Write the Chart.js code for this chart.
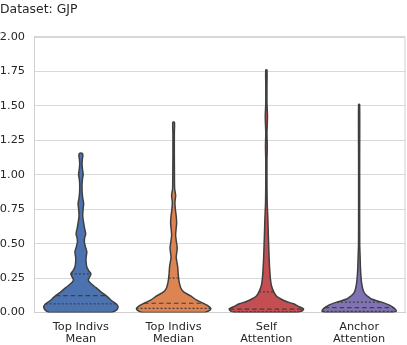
<!DOCTYPE html>
<html>
<head>
<meta charset="utf-8">
<script src="https://cdn.jsdelivr.net/npm/chart.js@4.4.0/dist/chart.umd.min.js"></script>
<style>
    html, body { margin: 0; padding: 0; background: #fff; }
</style>
</head>
<body>
<canvas id="violin-chart" width="407" height="345"></canvas>
<script>
// categories and ticks
let categories = [["Top Indivs", "Mean"], ["Top Indivs", "Median"], ["Self", "Attention"], ["Anchor", "Attention"]];
let yTicks = [0, 0.25, 0.5, 0.75, 1, 1.25, 1.5, 1.75, 2];

// violin outlines: value levels and relative density (1 = widest)
let meanLevels = [0, 0.02, 0.045, 0.063, 0.08, 0.1, 0.123, 0.15, 0.18, 0.21, 0.235, 0.255, 0.28, 0.3, 0.33, 0.37, 0.4, 0.44, 0.48, 0.51, 0.54, 0.57, 0.61, 0.65, 0.7, 0.75, 0.79, 0.83, 0.87, 0.93, 0.97, 1.0, 1.04, 1.08, 1.12, 1.14, 1.155];
let meanDensity = [0.84, 0.97, 1.0, 0.95, 0.86, 0.77, 0.68, 0.54, 0.41, 0.27, 0.2, 0.23, 0.27, 0.22, 0.16, 0.14, 0.14, 0.16, 0.12, 0.095, 0.1, 0.13, 0.1, 0.075, 0.05, 0.06, 0.075, 0.05, 0.035, 0.032, 0.043, 0.062, 0.043, 0.032, 0.043, 0.054, 0.04];

let medianLevels = [0, 0.015, 0.03, 0.05, 0.067, 0.09, 0.12, 0.15, 0.18, 0.22, 0.25, 0.29, 0.33, 0.37, 0.4, 0.44, 0.47, 0.51, 0.56, 0.6, 0.65, 0.7, 0.75, 0.8, 0.85, 0.9, 1.0, 1.15, 1.3, 1.38];
let medianDensity = [0.84, 0.97, 1.0, 0.92, 0.8, 0.62, 0.46, 0.27, 0.19, 0.15, 0.135, 0.12, 0.11, 0.086, 0.07, 0.086, 0.097, 0.076, 0.054, 0.065, 0.081, 0.07, 0.046, 0.035, 0.054, 0.027, 0.022, 0.019, 0.019, 0.022];

let selfLevels = [0, 0.012, 0.027, 0.045, 0.063, 0.08, 0.1, 0.12, 0.15, 0.196, 0.24, 0.29, 0.36, 0.44, 0.55, 0.68, 0.8, 0.95, 1.1, 1.21, 1.3, 1.42, 1.52, 1.65, 1.76];
let selfDensity = [0.84, 0.97, 1.0, 0.86, 0.73, 0.54, 0.38, 0.27, 0.2, 0.135, 0.11, 0.095, 0.08, 0.068, 0.054, 0.04, 0.022, 0.016, 0.016, 0.024, 0.016, 0.03, 0.016, 0.016, 0.016];

let anchorLevels = [0, 0.01, 0.03, 0.05, 0.075, 0.1, 0.12, 0.135, 0.16, 0.2, 0.23, 0.3, 0.4, 0.5, 0.8, 1.1, 1.51];
let anchorDensity = [0.89, 1.0, 0.95, 0.84, 0.6, 0.32, 0.22, 0.16, 0.11, 0.076, 0.06, 0.04, 0.027, 0.016, 0.014, 0.014, 0.014];

// quartiles (Q1, median, Q3) and the density at each
let quartileValues = [[0.063, 0.123, 0.28], [0.03, 0.067, 0.25], [0.006, 0.025, 0.15], [0.008, 0.035, 0.075]];
let quartileDensity = [[0.95, 0.68, 0.27], [1.0, 0.8, 0.135], [0.88, 0.99, 0.2], [0.98, 0.93, 0.6]];

let violinLevels = [meanLevels, medianLevels, selfLevels, anchorLevels];
let violinDensity = [meanDensity, medianDensity, selfDensity, anchorDensity];

let fillColors = ["#4c72b0", "#dd8452", "#c44e52", "#8172b3"];
let lineColor = "#3f3f3f";
let textColor = "#262626";
let spineColor = "#d0d0d0";
let halfWidth = 0.4;

// build violin outline (right side up, left side down, back to start)
function violinPoints(i) {
    let levels = violinLevels[i];
    let dens = violinDensity[i];
    let right = levels.map((v, k) => ({ x: i + dens[k] * halfWidth, y: v }));
    let left = levels.map((v, k) => ({ x: i - dens[k] * halfWidth, y: v })).reverse();
    return right.concat(left, [right[0]]);
}

let datasets = [];
for (let i = 0; i < categories.length; i++) {
    datasets.push({
        data: violinPoints(i),
        fill: "shape",
        backgroundColor: fillColors[i],
        borderColor: lineColor,
        borderWidth: 1.5,
        pointRadius: 0,
        tension: 0.25,
        order: 2,
    });
    // quartile lines: dotted Q1/Q3, dashed median
    quartileValues[i].forEach((q, k) => {
        let w = quartileDensity[i][k] * halfWidth;
        datasets.push({
            data: [{ x: i - w, y: q }, { x: i + w, y: q }],
            fill: false,
            borderColor: lineColor,
            borderWidth: 1.2,
            borderDash: k === 1 ? [4.5, 3] : [2, 2],
            pointRadius: 0,
            order: 1,
        });
    });
}

// top and right spines
const frame = {
    id: "frame",
    afterDraw(chart) {
        const { ctx, chartArea } = chart;
        ctx.save();
        ctx.strokeStyle = spineColor;
        ctx.lineWidth = 1;
        ctx.beginPath();
        ctx.moveTo(chartArea.left, chartArea.top + 0.5);
        ctx.lineTo(chartArea.right - 0.5, chartArea.top + 0.5);
        ctx.lineTo(chartArea.right - 0.5, chartArea.bottom);
        ctx.stroke();
        ctx.restore();
    },
};

const ctx = document.getElementById("violin-chart").getContext("2d");
new Chart(ctx, {
    type: "line",
    data: { datasets: datasets },
    plugins: [frame],
    options: {
        responsive: false,
        animation: false,
        layout: { padding: { left: 0, right: 1.5, top: 0, bottom: 0 } },
        plugins: {
            legend: { display: false },
            tooltip: { enabled: false },
            title: {
                display: true,
                text: "Dataset: GJP",
                align: "start",
                color: textColor,
                font: { family: "DejaVu Sans", size: 12.4, weight: "normal" },
                padding: { top: 2, bottom: 20 },
            },
        },
        scales: {
            x: {
                type: "linear",
                min: -0.5,
                max: 3.5,
                afterBuildTicks: (axis) => {
                    axis.ticks = categories.map((c, i) => ({ value: i }));
                },
                afterFit: (axis) => {
                    axis.height = 32.5;
                },
                grid: { display: false, drawTicks: false },
                border: { color: spineColor },
                ticks: {
                    color: textColor,
                    padding: 8,
                    maxRotation: 0,
                    font: { family: "DejaVu Sans", size: 11.3, lineHeight: 1.12 },
                    callback: (v) => categories[v],
                },
            },
            y: {
                min: 0,
                max: 2,
                afterBuildTicks: (axis) => {
                    axis.ticks = yTicks.map((v) => ({ value: v }));
                },
                afterFit: (axis) => {
                    axis.width = 34.5;
                },
                grid: { color: "#d9d9d9", drawTicks: false },
                border: { color: spineColor },
                ticks: {
                    color: textColor,
                    padding: 9.5,
                    font: { family: "DejaVu Sans", size: 11.3 },
                    callback: (v) => v.toFixed(2),
                },
            },
        },
    },
});
</script>
</body>
</html>
